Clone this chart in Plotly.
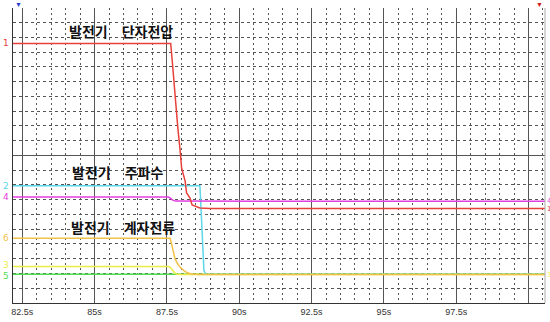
import plotly.graph_objects as go

# Time axis (s) and scope display units (20 divisions, 0 = bottom)
t_start, t_end = 82.18, 100.57

# 1: 발전기 단자전압 (red)
volt_t = [82.18, 87.63, 87.68, 87.78, 87.88, 87.95, 88.01, 88.13, 88.18, 88.30, 88.37, 88.64, 88.99, 100.57]
volt_v = [17.58, 17.58, 16.51, 13.83, 11.81, 10.47, 9.13, 8.26, 7.45, 7.11, 6.64, 6.44, 6.40, 6.40]

# 2: 발전기 주파수 (cyan)
freq_t = [82.18, 88.64, 88.66, 88.70, 88.75, 88.78, 88.83, 88.90, 100.57]
freq_v = [7.94, 7.94, 7.20, 5.20, 2.90, 2.20, 2.00, 1.95, 1.95]

# 4: magenta channel
ch4_t = [82.18, 87.55, 87.62, 87.70, 87.80, 100.57]
ch4_v = [7.18, 7.18, 7.10, 6.97, 6.90, 6.89]

# 6: 발전기 계자전류 (orange)
field_t = [82.18, 87.61, 87.65, 87.70, 87.78, 87.88, 87.98, 88.10, 88.20, 88.35, 88.60, 100.57]
field_v = [4.38, 4.38, 4.10, 3.65, 3.00, 2.62, 2.38, 2.18, 2.05, 1.97, 1.93, 1.93]

# 3: yellow channel
ch3_t = [82.18, 87.55, 87.62, 87.67, 87.73, 87.78, 87.86, 87.95, 100.57]
ch3_v = [2.48, 2.48, 2.42, 2.30, 2.12, 2.01, 1.95, 1.93, 1.93]

# 5: green channel
ch5_t = [82.18, 100.57]
ch5_v = [1.94, 1.94]

tick_vals = [82.5, 85, 87.5, 90, 92.5, 95, 97.5, 100]
tick_text = ["82.5s", "85s", "87.5s", "90s", "92.5s", "95s", "97.5s", ""]

RED = "#e8413c"
CYAN = "#5cd6e6"
MAGENTA = "#e23fe0"
ORANGE = "#f0c24a"
YELLOW = "#ecec45"
GREEN = "#4ddf4d"

fig = go.Figure()
traces = [
    (ch5_t, ch5_v, GREEN),
    (freq_t, freq_v, CYAN),
    (ch3_t, ch3_v, YELLOW),
    (field_t, field_v, ORANGE),
    (ch4_t, ch4_v, MAGENTA),
    (volt_t, volt_v, RED),
]
for tx, vy, col in traces:
    fig.add_trace(go.Scatter(x=tx, y=vy, mode="lines",
                             line=dict(color=col, width=1.5),
                             hoverinfo="skip", showlegend=False))

# Channel numbers on the left edge (small vertical nudges keep 3 and 5 apart)
left_labels = [("1", volt_v[0], RED, 0), ("2", freq_v[0], CYAN, 0), ("4", ch4_v[0], MAGENTA, 0),
               ("6", field_v[0], ORANGE, 0), ("3", ch3_v[0], YELLOW, 1.5), ("5", ch5_v[0], GREEN, -1.5)]
for txt, yv, col, dy in left_labels:
    fig.add_annotation(x=0, xref="paper", y=yv, yref="y", text=txt, showarrow=False,
                       xanchor="right", xshift=-2, yshift=dy, font=dict(size=9, color=col,
                       family="DejaVu Sans"))

# Channel numbers on the right edge (mostly past the window edge)
right_labels = [("4", ch4_v[-1], MAGENTA), ("1", volt_v[-1], RED), ("3", ch3_v[-1], YELLOW)]
for txt, yv, col in right_labels:
    fig.add_annotation(x=1, xref="paper", y=yv, yref="y", text=txt, showarrow=False,
                       xanchor="left", xshift=0, font=dict(size=7, color=col,
                       family="DejaVu Sans"))

# Signal titles
titles = [("발전기　단자전압", 121, 18.45), ("발전기　주파수", 118, 8.85), ("발전기　계자전류", 123, 5.15)]
for txt, px, yv in titles:
    fig.add_annotation(x=82.5 + (px - 22.3) / 28.92, y=yv, text=txt,
                       showarrow=False, font=dict(size=14, color="#111",
                       family="Noto Sans CJK KR", weight=700))

# Cursor markers at the top corners
fig.add_annotation(x=0, xref="paper", y=1, yref="paper", text="▼", showarrow=False,
                   yanchor="bottom", yshift=-3, font=dict(size=7, color="#2a3fcf"))
fig.add_annotation(x=1, xref="paper", y=1, yref="paper", text="▼", showarrow=False,
                   yanchor="bottom", yshift=-3, font=dict(size=7, color="#d01818"))

# Right frame edge
fig.add_shape(type="line", xref="paper", yref="paper", x0=1, x1=1, y0=0, y1=1,
              line=dict(color="#aaaaaa", width=1))

fig.update_xaxes(range=[t_start, t_end], tickmode="array", tickvals=tick_vals,
                 ticktext=tick_text, showgrid=True, gridcolor="#555555", gridwidth=1,
                 showline=True, linecolor="#333333", linewidth=1, ticks="",
                 zeroline=False, tickfont=dict(size=9, color="#333", family="Liberation Sans"),
                 minor=dict(tickmode="linear", tick0=82.5, dtick=0.5, showgrid=True,
                            gridcolor="#555555", griddash="2px,3px", gridwidth=1))
fig.update_yaxes(range=[0, 19.98], tickmode="array", tickvals=[10], showticklabels=False,
                 showgrid=True, gridcolor="#555555", gridwidth=1, showline=True,
                 linecolor="#333333", linewidth=1, ticks="", zeroline=False,
                 minor=dict(tickmode="linear", tick0=0, dtick=1, showgrid=True,
                            gridcolor="#555555", griddash="3px,3px", gridwidth=1))

fig.update_layout(width=550, height=322, margin=dict(l=13, r=5, t=8, b=16),
                  paper_bgcolor="white", plot_bgcolor="white")

fig.write_html("out.html")
